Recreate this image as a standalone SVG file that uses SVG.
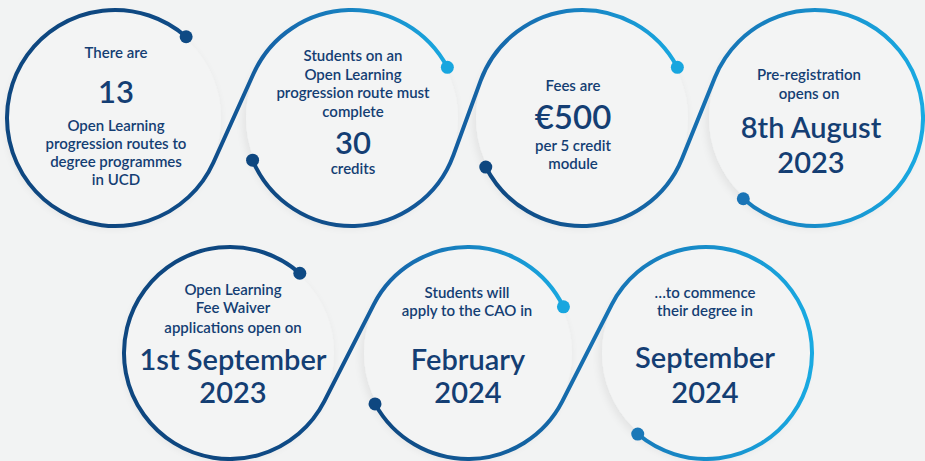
<svg xmlns="http://www.w3.org/2000/svg" width="925" height="461" viewBox="0 0 925 461">
<style>
.bg{fill:#f2f3f3}
.disc{fill:#f3f4f4;filter:url(#sh)}
.ln{fill:none;stroke-width:4;stroke-linecap:round}
.t{font-family:Lato,"Open Sans",sans-serif;fill:#143e73;text-anchor:middle}
.s{font-size:15px;font-weight:600}
.b{font-size:29px;font-weight:600}
.h{font-size:31px;font-weight:600}
</style>
<defs>
<filter id="sh" x="-20%" y="-20%" width="140%" height="140%">
<feGaussianBlur in="SourceAlpha" stdDeviation="5"/>
<feOffset dx="-2" dy="3" result="o"/>
<feComponentTransfer><feFuncA type="linear" slope="0.08"/></feComponentTransfer>
<feMerge><feMergeNode/><feMergeNode in="SourceGraphic"/></feMerge>
</filter>
<linearGradient id="gA" gradientUnits="userSpaceOnUse" x1="110" y1="0" x2="450" y2="0">
<stop offset="0" stop-color="#0e4780"/><stop offset="0.3" stop-color="#0f4d8a"/><stop offset="0.5" stop-color="#1668ac"/><stop offset="1" stop-color="#19a9e1"/>
</linearGradient>
<linearGradient id="gB" gradientUnits="userSpaceOnUse" x1="250" y1="0" x2="680" y2="0">
<stop offset="0" stop-color="#0e4780"/><stop offset="0.45" stop-color="#135a9c"/><stop offset="0.7" stop-color="#1778ba"/><stop offset="1" stop-color="#19a9e1"/>
</linearGradient>
<linearGradient id="gC" gradientUnits="userSpaceOnUse" x1="485" y1="0" x2="923" y2="0">
<stop offset="0" stop-color="#0e4780"/><stop offset="0.5" stop-color="#1670b2"/><stop offset="1" stop-color="#19aae2"/>
</linearGradient>
<linearGradient id="gD" gradientUnits="userSpaceOnUse" x1="225" y1="0" x2="565" y2="0">
<stop offset="0" stop-color="#0e4780"/><stop offset="0.3" stop-color="#0f4d8a"/><stop offset="0.5" stop-color="#1668ac"/><stop offset="1" stop-color="#19a9e1"/>
</linearGradient>
<linearGradient id="gE" gradientUnits="userSpaceOnUse" x1="375" y1="0" x2="814" y2="0">
<stop offset="0" stop-color="#0e4780"/><stop offset="0.5" stop-color="#1670b2"/><stop offset="1" stop-color="#19aae2"/>
</linearGradient>
</defs>
<rect class="bg" x="0" y="0" width="925" height="461"/>
<g id="discs">
<circle class="disc" cx="115" cy="118" r="106"/>
<circle class="disc" cx="352" cy="118" r="106"/>
<circle class="disc" cx="582" cy="118" r="106"/>
<circle class="disc" cx="815" cy="118" r="106"/>
<circle class="disc" cx="230" cy="353" r="104"/>
<circle class="disc" cx="468" cy="353" r="104"/>
<circle class="disc" cx="706" cy="353" r="104"/>
</g>
<g id="connectors">
<path class="ln" stroke="url(#gA)" d="M186.14 36.74 A108 108 0 1 0 213.43 162.45 L253.57 73.55 A108 108 0 0 1 447.36 67.3"/>
<path class="ln" stroke="url(#gB)" d="M252.58 160.2 A108 108 0 0 0 453.43 155.1 L480.57 80.9 A108 108 0 0 1 677.36 67.3"/>
<path class="ln" stroke="url(#gC)" d="M485.77 167.03 A108 108 0 0 0 682.12 158.5 L714.88 77.5 A108 108 0 1 1 743.3 198.76"/>
<path class="ln" stroke="url(#gD)" d="M299.82 273.24 A106 106 0 1 0 324.42 401.17 L373.58 304.83 A106 106 0 0 1 563.43 306.87"/>
<path class="ln" stroke="url(#gE)" d="M375.03 403.9 A106 106 0 0 0 562.42 401.17 L611.58 304.83 A106 106 0 1 1 637.73 434.08"/>
<circle cx="186.14" cy="36.74" r="6.5" fill="#0e4a84"/>
<circle cx="447.36" cy="67.3" r="6.5" fill="#18a6df"/>
<circle cx="252.58" cy="160.2" r="6.5" fill="#0e4780"/>
<circle cx="677.36" cy="67.3" r="6.5" fill="#18a6df"/>
<circle cx="485.77" cy="167.03" r="6.5" fill="#0e4780"/>
<circle cx="743.3" cy="198.76" r="6.5" fill="#1a74b6"/>
<circle cx="299.82" cy="273.24" r="6.5" fill="#0e4a84"/>
<circle cx="563.43" cy="306.87" r="6.5" fill="#18a6df"/>
<circle cx="375.03" cy="403.9" r="6.5" fill="#0e4780"/>
<circle cx="637.73" cy="434.08" r="6.5" fill="#1a78b8"/>
</g>
<g id="node1">
<text class="t s" x="116" y="58">There are</text>
<text class="t h" x="116" y="103">13</text>
<text class="t s" x="116" y="131">Open Learning</text>
<text class="t s" x="116" y="149">progression routes to</text>
<text class="t s" x="116" y="167">degree programmes</text>
<text class="t s" x="116" y="185">in UCD</text>
</g>
<g id="node2">
<text class="t s" x="353" y="61">Students on an</text>
<text class="t s" x="353" y="80">Open Learning</text>
<text class="t s" x="353" y="98">progression route must</text>
<text class="t s" x="353" y="117">complete</text>
<text class="t h" x="353" y="154">30</text>
<text class="t s" x="353" y="174">credits</text>
</g>
<g id="node3">
<text class="t s" x="573" y="91">Fees are</text>
<text class="t" x="573" y="129" style="font-size:33px;font-weight:600">€500</text>
<text class="t s" x="573" y="151">per 5 credit</text>
<text class="t s" x="573" y="169">module</text>
</g>
<g id="node4">
<text class="t s" x="809" y="80">Pre-registration</text>
<text class="t s" x="809" y="99">opens on</text>
<text class="t b" x="811" y="138">8th August</text>
<text class="t b" x="811" y="173">2023</text>
</g>
<g id="node5">
<text class="t s" x="233" y="295">Open Learning</text>
<text class="t s" x="233" y="313">Fee Waiver</text>
<text class="t s" x="233" y="333">applications open on</text>
<text class="t b" x="233" y="370">1st September</text>
<text class="t b" x="233" y="403">2023</text>
</g>
<g id="node6">
<text class="t s" x="467" y="298">Students will</text>
<text class="t s" x="467" y="316">apply to the CAO in</text>
<text class="t b" x="468" y="370">February</text>
<text class="t b" x="468" y="403">2024</text>
</g>
<g id="node7">
<text class="t s" x="705" y="298">…to commence</text>
<text class="t s" x="705" y="316">their degree in</text>
<text class="t b" x="705" y="368">September</text>
<text class="t b" x="705" y="403">2024</text>
</g>
</svg>
